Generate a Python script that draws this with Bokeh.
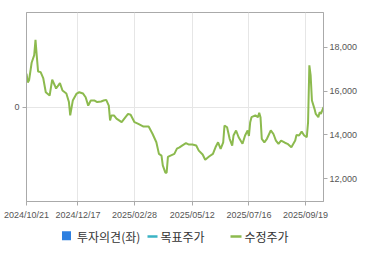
from bokeh.plotting import figure
from bokeh.layouts import column
from bokeh.models import (Range1d, LinearAxis, FixedTicker, NumeralTickFormatter,
                          ColumnDataSource)
from bokeh.core.properties import value
from bokeh.embed import file_html
from bokeh.resources import INLINE

# trading-day index of each traced point and adjusted price (수정주가)
day_index = [0, 1, 2, 4, 6, 7, 8, 9, 11, 13, 15, 18, 20, 22, 23, 26, 28, 31, 33, 34,
             36, 39, 41, 44, 46, 48, 50, 53, 55, 58, 60, 62, 64, 65, 66, 68, 70, 74, 77, 79,
             81, 84, 87, 91, 95, 98, 101, 103, 105, 106, 108, 109, 110, 112, 115, 117, 119, 121, 124, 126,
             129, 132, 134, 137, 139, 142, 145, 147, 149, 151, 153, 154, 156, 158, 160, 161, 163, 165, 168, 170,
             172, 173, 174, 175, 178, 180, 181, 182, 183, 185, 187, 190, 192, 194, 196, 198, 201, 203, 206, 209,
             210, 212, 214, 216, 218, 219, 220, 221, 222, 224, 225, 227, 228, 229, 231]
price = [16800, 16400, 16500, 17300, 17650, 18350, 17600, 16900, 16870, 16600, 15950, 15800, 16530, 16260, 16120, 16370, 16030, 15890, 15500, 14890,
         15570, 15890, 15950, 15890, 15720, 15340, 15570, 15570, 15500, 15530, 15570, 15600, 15340, 14660, 14890, 14890, 14740, 14580, 14810, 14960,
         14920, 14580, 14500, 14380, 14380, 14050, 13660, 13130, 13050, 12600, 12270, 12270, 12990, 13050, 13130, 13370, 13430, 13510, 13620, 13560,
         13560, 13510, 13280, 13100, 12860, 13010, 13130, 13430, 13660, 13360, 13660, 14430, 14350, 13820, 13510, 13970, 14200, 13890, 13590, 13970,
         14200, 13950, 14580, 14810, 14890, 14810, 15010, 14810, 13820, 13660, 13820, 14200, 14050, 13740, 13590, 13740, 13640, 13590, 13430, 13740,
         14000, 13970, 14150, 13970, 13890, 14580, 17180, 16720, 15570, 15190, 14960, 14810, 15040, 14960, 15270]

tick_index = [0, 40, 84, 129, 173, 217]
tick_labels = ["2024/10/21", "2024/12/17", "2025/02/28", "2025/05/12", "2025/07/16", "2025/09/19"]
price_ticks = [12000, 14000, 16000, 18000]
legend_labels = ["투자의견(좌)", "목표주가", "수정주가"]
legend_colors = ["#2e7fe0", "#3ab3c4", "#8cba4e"]

GRAY = "#aaaaaa"
GRID = "#e6e6e6"
TXT = "#555555"
FONT = "Liberation Sans"
LINE_GREEN = legend_colors[2]

fig = figure(width=370, height=222, output_backend="svg", toolbar_location=None,
             x_range=Range1d(0, 231), y_range=Range1d(-1, 1),
             min_border_left=26, min_border_right=47, min_border_top=12, min_border_bottom=21)
fig.extra_y_ranges = {"price": Range1d(10950, 19600)}

fig.outline_line_color = GRAY
fig.background_fill_color = "white"
fig.border_fill_color = "white"

# x axis
xa = fig.xaxis[0]
xa.ticker = FixedTicker(ticks=tick_index)
xa.major_label_overrides = {i: l for i, l in zip(tick_index, tick_labels)}
fig.xgrid.ticker = FixedTicker(ticks=tick_index)

# left axis (투자의견)
ya = fig.yaxis[0]
ya.ticker = FixedTicker(ticks=[0])
fig.ygrid.ticker = FixedTicker(ticks=[0])

# right axis (price)
ra = LinearAxis(y_range_name="price", ticker=FixedTicker(ticks=price_ticks),
                formatter=NumeralTickFormatter(format="0,0"))
fig.add_layout(ra, "right")

for ax in [xa, ya, ra]:
    ax.axis_line_color = GRAY
    ax.major_tick_line_color = GRAY
    ax.minor_tick_line_color = None
    ax.major_tick_out = 4
    ax.major_tick_in = 0
    ax.major_label_text_font = FONT
    ax.major_label_text_font_size = "9px"
    ax.major_label_text_color = TXT
xa.major_label_standoff = 4
ya.major_label_standoff = 3
ra.major_label_standoff = 2

fig.xgrid.grid_line_color = GRID
fig.ygrid.grid_line_color = GRID

src = ColumnDataSource(dict(x=day_index, y=price))
fig.line("x", "y", source=src, y_range_name="price", line_color=LINE_GREEN, line_width=2)

# legend strip (separate figure; its frame is aligned with the chart frame,
# so the x range spans the frame's pixel extent 26..323, y runs downward)
lg = figure(width=370, height=33, output_backend="svg", toolbar_location=None,
            x_range=Range1d(26, 323), y_range=Range1d(33, 0),
            min_border_left=26, min_border_right=47,
            min_border_top=0, min_border_bottom=0)
lg.axis.visible = False
lg.grid.visible = False
lg.outline_line_color = None
lg.background_fill_color = "white"
lg.border_fill_color = "white"

lg.quad(left=[61.5], right=[70.5], top=[8.8], bottom=[17.8],
        fill_color=legend_colors[0], line_color=None)
lg.segment(x0=[147], x1=[157], y0=[14], y1=[14], line_color=legend_colors[1], line_width=2.5)
lg.segment(x0=[230], x1=[241], y0=[14], y1=[14], line_color=legend_colors[2], line_width=2.5)
lg.text(x=[76.5, 160, 244], y=[14, 14, 14], text=legend_labels,
        text_font=value("Noto Sans CJK KR"), text_font_size="12px",
        text_color="#333333", text_align="left", text_baseline="middle")

p = column(fig, lg, spacing=0)

open("out.html", "w").write(file_html(p, INLINE))
